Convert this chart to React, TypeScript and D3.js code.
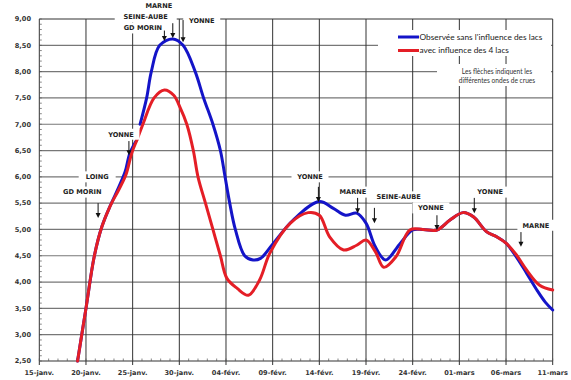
import React from "react";
import * as d3 from "d3";

// ---- data (days since 15 janv.) ----
const blueDays = [4.1, 5.0, 5.9, 6.7, 7.6, 8.5, 9.2, 9.7, 10.5, 10.6, 10.8, 11.5, 12.0, 12.9, 14.3, 15.4, 16.7, 17.6, 18.6, 19.4, 19.9, 20.4, 21.0, 22.0, 22.9, 23.7, 25.0, 27.2, 30.0, 31.5, 32.8, 34.0, 35.0, 36.0, 37.1, 38.6, 40.0, 41.1, 42.6, 44.0, 45.4, 46.5, 47.9, 49.0, 50.0, 51.1, 52.2, 53.3, 54.2, 55.0];
const blueVals: (number | null)[] = [2.5, 3.5, 4.5, 5.05, 5.45, 5.8, 6.1, 6.45, 6.72, null, 7.0, 7.5, 8.0, 8.5, 8.62, 8.5, 8.0, 7.5, 7.0, 6.5, 6.0, 5.5, 5.0, 4.5, 4.42, 4.45, 4.72, 5.18, 5.53, 5.4, 5.27, 5.31, 5.12, 4.67, 4.42, 4.72, 4.99, 5.0, 4.99, 5.18, 5.32, 5.24, 4.96, 4.86, 4.74, 4.48, 4.17, 3.85, 3.62, 3.47];

const redDays = [4.1, 5.0, 5.9, 6.7, 7.6, 8.5, 9.3, 9.9, 10.5, 11.1, 12.3, 13.4, 14.4, 15.1, 15.8, 16.5, 17.0, 17.8, 18.6, 19.4, 20.1, 21.2, 22.4, 23.6, 24.7, 26.9, 28.8, 30.0, 31.1, 32.6, 34.0, 35.0, 36.0, 36.9, 38.2, 39.7, 41.1, 42.6, 44.0, 45.4, 46.5, 47.9, 49.0, 50.0, 51.1, 52.2, 53.6, 55.0];
const redVals = [2.5, 3.5, 4.5, 5.05, 5.45, 5.75, 6.05, 6.45, 6.72, 7.0, 7.5, 7.65, 7.55, 7.31, 7.0, 6.5, 6.0, 5.5, 5.0, 4.5, 4.07, 3.88, 3.75, 4.04, 4.55, 5.12, 5.32, 5.27, 4.86, 4.61, 4.7, 4.8, 4.58, 4.28, 4.48, 4.99, 5.0, 4.99, 5.18, 5.32, 5.24, 4.96, 4.86, 4.74, 4.52, 4.23, 3.94, 3.85];

const tickDays = [0, 5, 10, 15, 20, 25, 30, 35, 40, 45, 50, 55];
const tickLabels = ["15-janv.", "20-janv.", "25-janv.", "30-janv.", "04-févr.", "09-févr.", "14-févr.", "19-févr.", "24-févr.", "01-mars", "06-mars", "11-mars"];
const yTicks = [2.5, 3, 3.5, 4, 4.5, 5, 5.5, 6, 6.5, 7, 7.5, 8, 8.5, 9];

const seriesNames = ["Observée sans l'influence des lacs", "avec influence des 4 lacs"];
const noteLines = ["Les flèches indiquent les", "différentes ondes de crues"];

// annotations: label, label anchor (day, value), arrow (day, from value, to value)
const annText = ["MARNE", "SEINE-AUBE", "GD MORIN", "YONNE", "YONNE", "LOING", "GD MORIN", "YONNE", "MARNE", "SEINE-AUBE", "YONNE", "YONNE", "MARNE"];
const annDay = [12.8, 11.4, 11.1, 17.4, 8.75, 6.2, 4.6, 29.0, 33.6, 38.5, 41.95, 48.3, 53.2];
const annVal = [9.25, 9.04, 8.83, 8.96, 6.81, 6.0, 5.71, 6.0, 5.71, 5.62, 5.41, 5.71, 5.08];
const arrowDay: (number | null)[] = [14.3, null, 13.4, 15.4, 9.6, null, 6.3, 29.9, 34.1, 35.9, 42.6, 46.6, 51.6];
const arrowFrom = [8.92, 0, 8.78, 8.98, 6.68, 0, 5.5, 5.81, 5.6, 5.41, 5.27, 5.6, 4.95];
const arrowTo = [8.64, 0, 8.58, 8.56, 6.41, 0, 5.22, 5.52, 5.31, 5.12, 4.99, 5.31, 4.67];

const W = 571;
const H = 380;

export default function App() {
  const x = d3.scaleLinear().domain([0, 55]).range([39.3, 552.7]);
  const y = d3.scaleLinear().domain([2.5, 9]).range([361, 19]);
  const fmt = (v: number) => d3.format(".2f")(v).replace(".", ",");

  const blueData = blueDays.map((d, i) => ({ d, v: blueVals[i] }));
  const redData = redDays.map((d, i) => ({ d, v: redVals[i] }));
  const line = d3
    .line<{ d: number; v: number | null }>()
    .defined((p) => p.v !== null)
    .x((p) => x(p.d))
    .y((p) => y(p.v as number))
    .curve(d3.curveCatmullRom.alpha(0.5));

  const minorY = d3.range(25, 91).map((k) => k / 10);
  const minorX = d3.range(0, 56);

  const labelFont = "'DejaVu Sans', Verdana, sans-serif";
  const fs = 6.6;

  return (
    <svg width={W} height={H} style={{ position: "absolute", left: 0, top: 0, background: "#fff" }}>
      <rect x={0} y={0} width={W} height={H} fill="#fff" />
      {/* horizontal grid */}
      {yTicks.map((t) => (
        <line key={"h" + t} x1={x(0)} x2={x(55)} y1={y(t)} y2={y(t)} stroke={t === 9 || t === 2.5 ? "#333" : "#777"} strokeWidth={1.2} />
      ))}
      {/* vertical grid */}
      {tickDays.map((t) => (
        <line key={"v" + t} x1={x(t)} x2={x(t)} y1={y(9)} y2={y(2.5) + 4} stroke="#333" strokeWidth={1} />
      ))}
      {/* minor ticks */}
      {minorY.map((t) => (
        <line key={"my" + t} x1={x(0)} x2={x(0) + 2.5} y1={y(t)} y2={y(t)} stroke="#555" strokeWidth={0.7} />
      ))}
      {minorX.map((t) => (
        <line key={"mx" + t} x1={x(t)} x2={x(t)} y1={y(2.5)} y2={y(2.5) - 2.5} stroke="#555" strokeWidth={0.7} />
      ))}
      {/* y labels */}
      {yTicks.map((t) => (
        <text key={"yl" + t} x={31} y={y(t)} dy="0.35em" textAnchor="end" fontFamily={labelFont} fontWeight="bold" fontSize={6.6} fill="#333">
          {fmt(t)}
        </text>
      ))}
      {/* x labels */}
      {tickDays.map((t, i) => (
        <text key={"xl" + t} x={x(t)} y={373} dy="0.35em" textAnchor="middle" fontFamily={labelFont} fontWeight="bold" fontSize={6.6} fill="#333">
          {tickLabels[i]}
        </text>
      ))}
      {/* series */}
      <path d={line(blueData) || ""} fill="none" stroke="#1414c8" strokeWidth={3} strokeLinejoin="round" strokeLinecap="round" />
      <path d={line(redData) || ""} fill="none" stroke="#e41e26" strokeWidth={3} strokeLinejoin="round" strokeLinecap="round" />
      {/* annotations */}
      {annText.map((t, i) => {
        const cx = x(annDay[i]);
        const cy = y(annVal[i]);
        const w = t.length * 5.0 + 12;
        return <rect key={"a" + i} x={cx - w / 2} y={cy - 5.5} width={w} height={11} fill="#fff" />;
      })}
      {annText.map((t, i) => {
        const cx = x(annDay[i]);
        const cy = y(annVal[i]);
        const ad = arrowDay[i];
        return (
          <g key={"at" + i}>
            <text x={cx} y={cy} dy="0.35em" textAnchor="middle" fontFamily={labelFont} fontWeight="bold" fontSize={fs} fill="#222">
              {t}
            </text>
            {ad !== null && (
              <g>
                <line x1={x(ad)} x2={x(ad)} y1={y(arrowFrom[i])} y2={y(arrowTo[i]) - 4} stroke="#111" strokeWidth={1} />
                <path
                  d={`M${x(ad) - 2.5},${y(arrowTo[i]) - 5} L${x(ad) + 2.5},${y(arrowTo[i]) - 5} L${x(ad)},${y(arrowTo[i])} Z`}
                  fill="#111"
                />
              </g>
            )}
          </g>
        );
      })}
      {/* legend */}
      <rect x={378} y={30} width={173} height={26} fill="#fff" />
      <line x1={398} x2={419} y1={37} y2={37} stroke="#1414c8" strokeWidth={3} />
      <line x1={398} x2={419} y1={50.5} y2={50.5} stroke="#e41e26" strokeWidth={3} />
      <text x={419.5} y={37} dy="0.35em" fontFamily="Lato, 'Open Sans', sans-serif" fontSize={8.3} fill="#222">
        {seriesNames[0]}
      </text>
      <text x={419.5} y={50.5} dy="0.35em" fontFamily="Lato, 'Open Sans', sans-serif" fontSize={8.3} fill="#222">
        {seriesNames[1]}
      </text>
      {/* note */}
      <rect x={437} y={64} width={114} height={22} fill="#fff" />
      {noteLines.map((t, i) => (
        <text key={"n" + i} x={497} y={72 + i * 9} dy="0.35em" textAnchor="middle" fontFamily="Lato, 'Open Sans', sans-serif" fontSize={6.6} fill="#333">
          {t}
        </text>
      ))}
    </svg>
  );
}
